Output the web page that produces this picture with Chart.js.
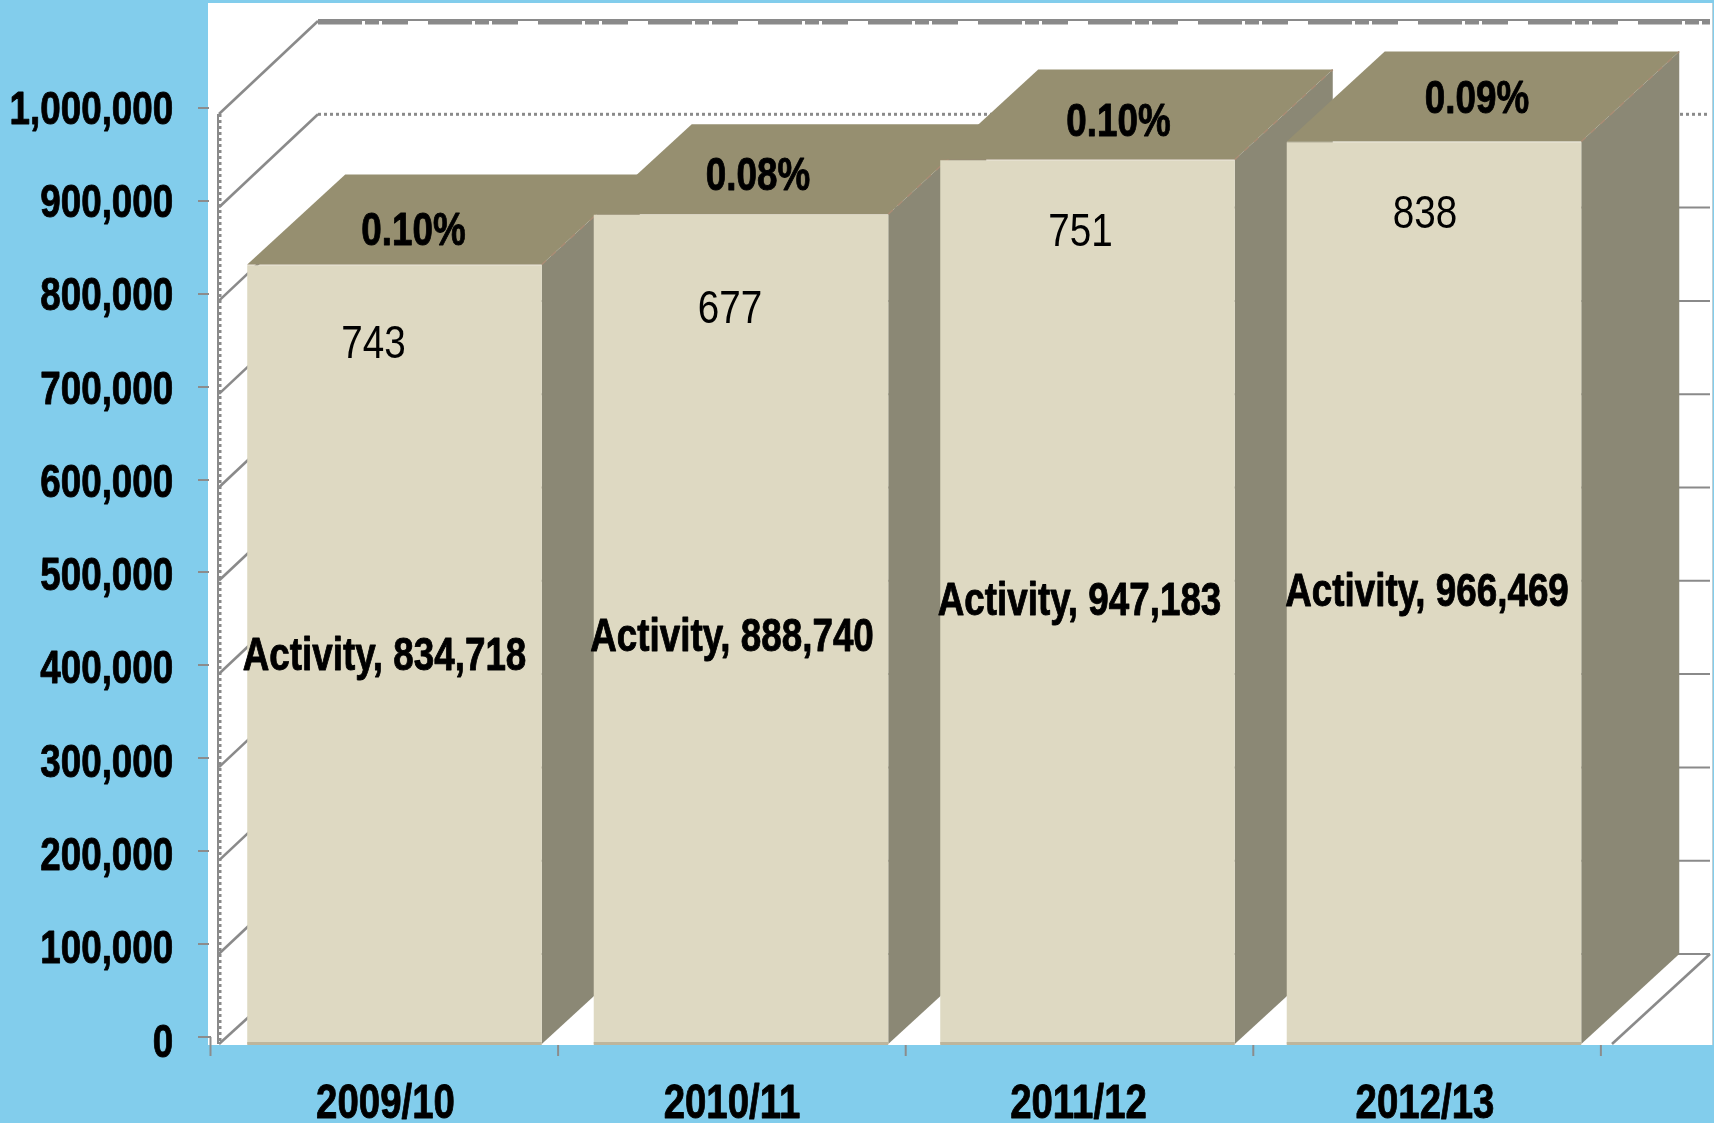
<!DOCTYPE html>
<html>
<head>
<meta charset="utf-8">
<style>
html,body{margin:0;padding:0;background:#82CDEC;overflow:hidden}
canvas{display:block;filter:blur(0.5px)}
</style>
<script src="https://cdn.jsdelivr.net/npm/chart.js@4"></script>
</head>
<body>
<canvas id="c" width="1714" height="1123"></canvas>
<script>
const categories = ['2009/10','2010/11','2011/12','2012/13'];
const activity = [834718,888740,947183,966469];
const incidents = [743,677,751,838];
const percents = ['0.10%','0.08%','0.10%','0.09%'];
const seriesName = 'Activity';
const gridValues = [0,100000,200000,300000,400000,500000,600000,700000,800000,900000,1000000];
const xMarkValues = [0,1,2,3,4];

const FAMILY = '"Liberation Sans", Arial, sans-serif';
const FONT_BOLD = 'bold 46px '+FAMILY;
const FONT_REG = '46px '+FAMILY;
const C = {bg:'#82CDEC',front:'#DED9C2',top:'#968F70',side:'#8B8875',edge:'#A98C74',base:'#BDB59C',wall:'#8A8A8A',tick:'#8C8C8C'};
const DEPTH = {x:98,y:90};
const WALL = {left:219,dx:99,dy:90,right:1710};
const nudges = {
  pct:[{x:29,y:-32},{x:27,y:-37},{x:41,y:-36},{x:53,y:-41}],
  inc:[{x:-11,y:81},{x:-1,y:96},{x:3,y:74},{x:1,y:74}],
  act:[{x:0,y:3},{x:1,y:9},{x:2,y:0},{x:3,y:0}]
};

// The reference text is horizontally squeezed: every label, from the axes or the
// plugin, goes through this condensed fillText.
const canvas = document.getElementById('c');
const ctx = canvas.getContext('2d');
const nativeFill = ctx.fillText.bind(ctx);
const nativeStroke = ctx.strokeText.bind(ctx);
ctx.fillText = function(t,x,y){
  const bold = ctx.font.indexOf('bold')===0;
  ctx.save();
  ctx.translate(x,y);
  ctx.scale(bold?0.8:0.84,1);
  nativeFill(t,0,0);
  if(bold){ctx.strokeStyle=ctx.fillStyle;ctx.lineWidth=0.9;ctx.lineJoin='round';nativeStroke(t,0,0);}
  ctx.restore();
};

const scene = {
  id:'scene',
  beforeDraw(chart){
    const g = chart.ctx;
    g.save();
    g.fillStyle = '#FFFFFF';
    g.fillRect(208,3,1505,1042);
    g.fillStyle = '#BFD0D6';
    g.fillRect(1712,3,1,1042);
    g.restore();
  },
  beforeDatasetsDraw(chart){
    const g = chart.ctx, y = chart.scales.y, yM = chart.scales.yMarks, xM = chart.scales.xMarks;
    g.save();
    g.strokeStyle = C.tick; g.lineWidth = 2;
    gridValues.forEach(v=>{
      const p = Math.round(yM.getPixelForValue(v));
      g.beginPath(); g.moveTo(198,p); g.lineTo(v===0?211:209,p); g.stroke();
    });
    xMarkValues.forEach(v=>{
      const p = xM.getPixelForValue(v);
      g.beginPath(); g.moveTo(p,v===0?1037:1045); g.lineTo(p,1056); g.stroke();
    });
    g.strokeStyle = C.wall;
    g.lineWidth = 2;
    g.beginPath(); g.moveTo(WALL.left-1,y.getPixelForValue(1000000)+3); g.lineTo(WALL.left-1,1044); g.stroke();
    g.setLineDash([3,3]); g.lineWidth = 3;
    g.beginPath(); g.moveTo(WALL.left+1,y.getPixelForValue(1000000)+3); g.lineTo(WALL.left+1,1044); g.stroke();
    g.setLineDash([]);
    gridValues.forEach(v=>{
      const p = y.getPixelForValue(v), fy = Math.min(p+3,1044), by = p-WALL.dy;
      const x0 = WALL.left+WALL.dx;
      g.lineWidth = 2.6;
      g.beginPath(); g.moveTo(WALL.left,fy); g.lineTo(x0,by); g.stroke();
      if(v===1000000){
        g.lineWidth = 2;
        g.beginPath(); g.moveTo(x0,by-1); g.lineTo(WALL.right,by-1); g.stroke();
        g.lineWidth = 5; g.setLineDash([44,3,14,3,26,20]);
        g.beginPath(); g.moveTo(x0,by+1); g.lineTo(WALL.right,by+1); g.stroke();
        g.setLineDash([]);
      } else if(v===900000){
        g.lineWidth = 3; g.setLineDash([3,3]);
        g.beginPath(); g.moveTo(x0,by); g.lineTo(WALL.right,by); g.stroke();
        g.setLineDash([]);
      } else {
        g.lineWidth = 2;
        g.beginPath(); g.moveTo(x0,by); g.lineTo(WALL.right,by); g.stroke();
      }
    });
    g.lineWidth = 2.6;
    g.beginPath(); g.moveTo(1612,1044); g.lineTo(WALL.right,y.getPixelForValue(0)-WALL.dy); g.stroke();
    const bars = chart.getDatasetMeta(1).data;
    bars.forEach(el=>{
      const l = el.x-el.width/2, r = el.x+el.width/2, t = el.y, b = y.getPixelForValue(0);
      g.fillStyle = C.side;
      g.beginPath(); g.moveTo(r,t); g.lineTo(r+DEPTH.x,t-DEPTH.y); g.lineTo(r+DEPTH.x,b-DEPTH.y); g.lineTo(r,b); g.closePath(); g.fill();
      g.fillStyle = C.top;
      g.beginPath(); g.moveTo(l,t); g.lineTo(l+DEPTH.x,t-DEPTH.y); g.lineTo(r+DEPTH.x,t-DEPTH.y); g.lineTo(r,t); g.closePath(); g.fill();
      g.strokeStyle = C.edge; g.lineWidth = 1.5; g.setLineDash([6,7]);
      g.beginPath(); g.moveTo(r,t); g.lineTo(r+DEPTH.x,t-DEPTH.y); g.stroke();
      g.setLineDash([]);
    });
    g.restore();
  },
  afterDatasetsDraw(chart){
    const g = chart.ctx, y = chart.scales.y;
    const bars = chart.getDatasetMeta(1).data;
    g.save();
    g.textAlign = 'center'; g.textBaseline = 'middle';
    bars.forEach((el,i)=>{
      const l = el.x-el.width/2, r = el.x+el.width/2, b = y.getPixelForValue(0);
      g.fillStyle = C.base; g.fillRect(l,b-2,r-l,3);
      g.fillStyle = '#000';
      const cx = el.x-10;
      g.font = FONT_BOLD;
      g.fillText(seriesName+', '+activity[i].toLocaleString('en-US'),cx+nudges.act[i].x,y.getPixelForValue(activity[i]/2)+nudges.act[i].y);
      g.fillText(percents[i],cx+nudges.pct[i].x,el.y+nudges.pct[i].y);
      g.font = FONT_REG;
      g.fillText(String(incidents[i]),cx+nudges.inc[i].x,el.y+nudges.inc[i].y);
    });
    g.restore();
  }
};

new Chart(canvas,{
  type:'bar',
  data:{labels:categories,datasets:[
    {label:'Activity',data:activity,backgroundColor:C.front,borderWidth:0,categoryPercentage:1,barPercentage:0.85},
    {label:'Incidents',data:incidents,backgroundColor:C.edge,borderColor:[C.edge,C.edge,C.edge,C.front],borderWidth:1,categoryPercentage:1,barPercentage:0.85}
  ]},
  options:{
    responsive:false,animation:false,
    layout:{padding:{top:111,right:106.75,left:0,bottom:0}},
    plugins:{legend:{display:false},tooltip:{enabled:false},title:{display:false}},
    scales:{
      x:{stacked:true,position:'bottom',
        grid:{display:false,drawTicks:false},border:{display:false},
        afterFit(s){s.height=79;},
        ticks:{font:{family:FAMILY,size:48,weight:'bold'},color:'#000',padding:32,labelOffset:-9,maxRotation:0,autoSkip:false}},
      y:{stacked:true,position:'left',min:0,max:1000000,
        grid:{display:false,drawTicks:false},border:{display:false},
        afterFit(s){s.width=221.25;},
        ticks:{stepSize:100000,autoSkip:false,font:{family:FAMILY,size:46,weight:'bold'},color:'#000',padding:48,
          callback:v=>Number(v).toLocaleString('en-US')}},
      yMarks:{type:'linear',display:false,position:'left',min:-7535,max:996770,offset:false},
      xMarks:{type:'linear',display:false,position:'bottom',min:0.0309,max:4.0183,offset:false}
    }
  },
  plugins:[scene]
});
</script>
</body>
</html>
